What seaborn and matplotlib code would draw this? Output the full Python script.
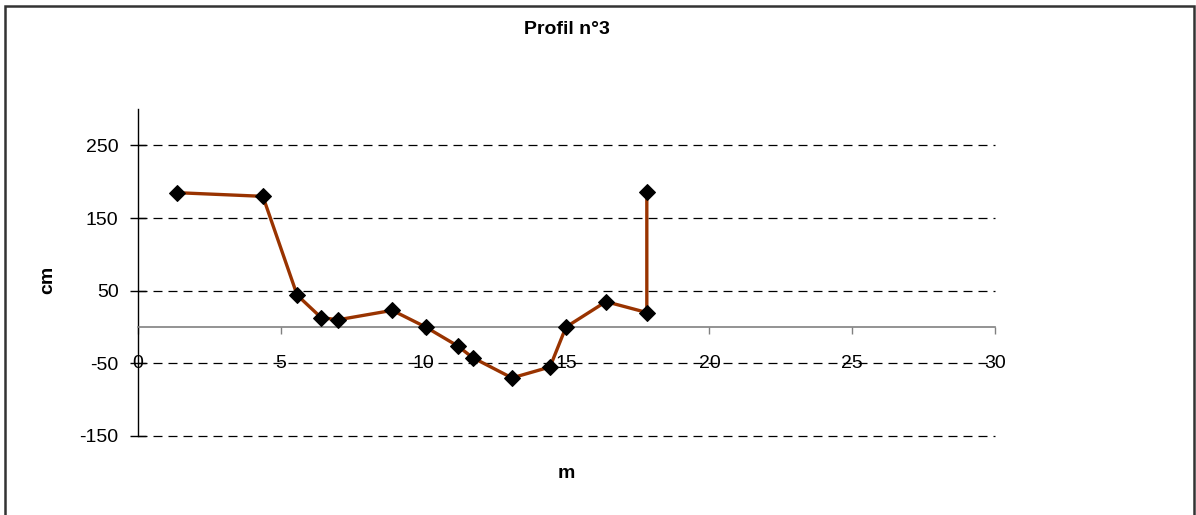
import matplotlib
matplotlib.use("Agg")
import matplotlib.pyplot as plt
import seaborn as sns
from matplotlib.patches import Rectangle

sns.set_theme(style="white")
plt.rcParams['font.family'] = ['Liberation Sans', 'DejaVu Sans']
plt.rcParams['axes.unicode_minus'] = False
plt.rcParams['text.color'] = 'black'
plt.rcParams['xtick.color'] = 'black'
plt.rcParams['ytick.color'] = 'black'

# profile points (distance in m, height in cm)
distance_m = [1.38, 4.37, 5.57, 6.41, 7.0, 8.9, 10.07, 11.19, 11.71, 13.09, 14.42, 14.98, 16.38, 17.81, 17.81]
height_cm = [185, 180, 44, 13, 10, 23, 0, -26, -42, -70, -55, 0, 35, 20, 186]
x_ticks = [0, 5, 10, 15, 20, 25, 30]
y_ticks = [-150, -50, 50, 150, 250]

fig = plt.figure(figsize=(11.96, 5.15), dpi=100)
ax = fig.add_axes([0.1154, 0.1534, 0.832 - 0.1154, 0.788 - 0.1534])

sns.lineplot(x=distance_m, y=height_cm, ax=ax, estimator=None, sort=False,
             color='#993300', linewidth=2.4, marker='D', markersize=8,
             markerfacecolor='black', markeredgecolor='black', zorder=3)

ax.set_xlim(0, 30)
ax.set_ylim(-150, 300)
ax.set_xticks(x_ticks)
ax.set_yticks(y_ticks)

for y in y_ticks:
    ax.axhline(y, color='black', linewidth=0.9, linestyle=(0, (7.2, 4.8)),
               zorder=1, clip_on=False)

ax.spines['top'].set_visible(False)
ax.spines['right'].set_visible(False)
ax.spines['left'].set_color('black')
ax.spines['left'].set_linewidth(1.0)
ax.spines['bottom'].set_position(('data', 0))
ax.spines['bottom'].set_color('#808080')
ax.spines['bottom'].set_linewidth(1.2)

ax.tick_params(axis='x', direction='out', length=5, width=1, color='#808080',
               labelcolor='black', pad=15, labelsize=14, bottom=True)
ax.tick_params(axis='y', direction='inout', length=12, width=1, color='black',
               labelcolor='black', pad=8, labelsize=14, left=True)

fig.text(0.4737, 1 - 30 / 515, 'Profil n°3', fontsize=14, fontweight='bold',
         ha='center', va='center')
fig.text(0.4737, 1 - 473 / 515, 'm', fontsize=14, fontweight='bold',
         ha='center', va='center')
fig.text(48 / 1196, 1 - 280 / 515, 'cm', fontsize=14, fontweight='bold',
         ha='center', va='center', rotation=90)

fig.patches.append(Rectangle((5 / 1196, -0.02), 1189 / 1196, 1.02 - 6 / 515,
                             transform=fig.transFigure, fill=False,
                             edgecolor='#333333', linewidth=1.8))

fig.savefig('out.png', dpi=100)
